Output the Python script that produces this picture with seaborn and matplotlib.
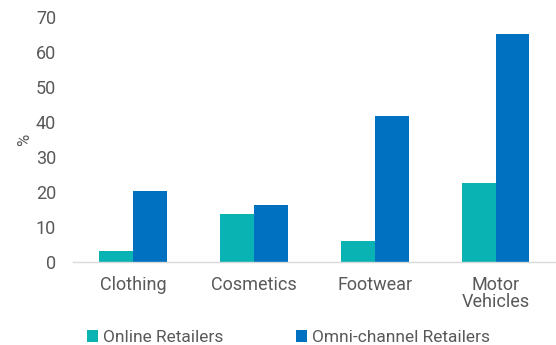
import matplotlib
matplotlib.use("Agg")
import matplotlib.pyplot as plt
import seaborn as sns
import pandas as pd
from matplotlib.patches import Patch

categories = ["Clothing", "Cosmetics", "Footwear", "Motor\nVehicles"]
online = [3.1, 13.6, 5.8, 22.5]
omni = [20.2, 16.3, 41.6, 65.1]
series = ["Online Retailers", "Omni-channel Retailers"]
colors = ["#0ab3b3", "#0070c0"]
yticks = [0, 10, 20, 30, 40, 50, 60, 70]

df = pd.DataFrame({
    "cat": categories * 2,
    "val": online + omni,
    "series": [series[0]] * 4 + [series[1]] * 4,
})

sns.set_theme(style="white")
plt.rcParams["font.family"] = ["Roboto", "DejaVu Sans"]

fig = plt.figure(figsize=(5.56, 3.45), dpi=100)
ax = fig.add_axes([0.131, 0.2415, 0.869, 0.7085])
sns.barplot(data=df, x="cat", y="val", hue="series", palette=colors,
            width=0.56, gap=0, saturation=1, linewidth=0, ax=ax, legend=False)

ax.set_ylim(0, 70)
ax.set_xlim(-0.5, 3.5)
ax.set_yticks(yticks)
ax.tick_params(axis="y", length=0, labelsize=13, labelcolor="#595959", pad=12)
ax.tick_params(axis="x", which="major", length=0, labelsize=13, labelcolor="#595959", pad=10)
for lab in ax.get_xticklabels():
    lab.set_linespacing(0.95)
ax.set_xticks([-0.5, 0.5, 1.5, 2.5], minor=True)
ax.tick_params(axis="x", which="minor", length=4, color="#d9d9d9", width=1)
ax.set_xlabel("")
ax.set_ylabel("%", color="#595959", fontsize=12, labelpad=3)
for s in ["top", "right", "left"]:
    ax.spines[s].set_visible(False)
ax.spines["bottom"].set_color("#d9d9d9")
ax.spines["bottom"].set_linewidth(1)

handles = [Patch(facecolor=c, edgecolor="none") for c in colors]
fig.legend(handles, series, loc="center left", bbox_to_anchor=(0.156, 0.021), ncol=2,
           frameon=False, fontsize=12.5, handlelength=0.65, handleheight=0.65,
           handletextpad=0.3, columnspacing=4.15, labelcolor="#595959",
           borderpad=0, borderaxespad=0)

fig.savefig("out.png", dpi=100)
